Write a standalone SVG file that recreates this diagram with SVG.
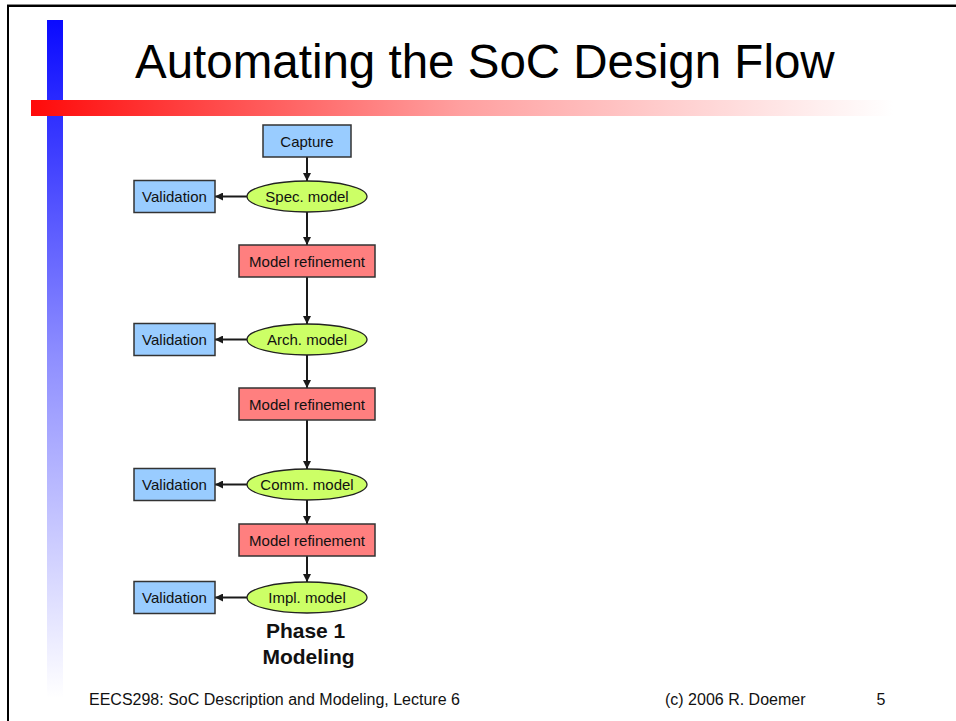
<svg xmlns="http://www.w3.org/2000/svg" width="956" height="721" viewBox="0 0 956 721">
  <defs>
    <linearGradient id="gradBlue" x1="0" y1="0" x2="0" y2="1">
      <stop offset="0" stop-color="#0a0aff"/>
      <stop offset="0.5" stop-color="#8f8fff"/>
      <stop offset="1" stop-color="#ffffff"/>
    </linearGradient>
    <linearGradient id="gradRed" x1="0" y1="0" x2="1" y2="0">
      <stop offset="0" stop-color="#ff0a0a"/>
      <stop offset="0.5" stop-color="#ffa0a0"/>
      <stop offset="1" stop-color="#ffffff"/>
    </linearGradient>
    <marker id="arrow" viewBox="0 0 10 10" refX="10" refY="5" markerWidth="4" markerHeight="4" orient="auto" markerUnits="strokeWidth">
      <path d="M0,0 L10,5 L0,10 z" fill="#1a1a1a"/>
    </marker>
    <style>
      .box { stroke: #333; stroke-width: 1.5; }
      .blue { fill: #99ccff; }
      .red { fill: #ff7f7f; }
      .model { fill: #ccff66; stroke: #222; stroke-width: 1.3; }
      .lbl { font-family: "Liberation Sans", Arial, sans-serif; font-size: 15px; fill: #111; text-anchor: middle; }
      .edge { stroke: #1a1a1a; stroke-width: 2; fill: none; marker-end: url(#arrow); }
      .foot { font-family: "Liberation Sans", Arial, sans-serif; font-size: 16px; fill: #111; }
    </style>
  </defs>

  <rect width="956" height="721" fill="#ffffff"/>

  <!-- slide frame (top and left edges) -->
  <rect x="7" y="4" width="949" height="1" fill="#888"/>
  <rect x="7" y="5" width="949" height="2" fill="#000"/>
  <rect x="7" y="5" width="2" height="716" fill="#000"/>

  <!-- decorative bars -->
  <rect x="47" y="20" width="16" height="678" fill="url(#gradBlue)"/>
  <rect x="31" y="100" width="862" height="16" fill="url(#gradRed)"/>

  <!-- title -->
  <text x="135" y="78" font-family="Liberation Sans, Arial, sans-serif" font-size="47.5" fill="#000">Automating the SoC Design Flow</text>

  <!-- connectors -->
  <g id="connectors">
    <line class="edge" x1="307" y1="157" x2="307" y2="181"/>
    <line class="edge" x1="307" y1="212" x2="307" y2="245"/>
    <line class="edge" x1="307" y1="277" x2="307" y2="324"/>
    <line class="edge" x1="307" y1="355" x2="307" y2="388"/>
    <line class="edge" x1="307" y1="420" x2="307" y2="469"/>
    <line class="edge" x1="307" y1="500" x2="307" y2="524"/>
    <line class="edge" x1="307" y1="556" x2="307" y2="582"/>
    <line class="edge" x1="247" y1="196.5" x2="215" y2="196.5"/>
    <line class="edge" x1="247" y1="339.5" x2="215" y2="339.5"/>
    <line class="edge" x1="247" y1="484.5" x2="215" y2="484.5"/>
    <line class="edge" x1="247" y1="597.5" x2="215" y2="597.5"/>
  </g>

  <!-- nodes -->
  <g id="capture">
    <rect class="box blue" x="263" y="125" width="88" height="32"/>
    <text class="lbl" x="307" y="146.5">Capture</text>
  </g>

  <g id="spec-model">
    <ellipse class="model" cx="307" cy="196.5" rx="60" ry="15.5"/>
    <text class="lbl" x="307" y="202">Spec. model</text>
  </g>
  <g id="validation-1">
    <rect class="box blue" x="134" y="180.5" width="81" height="32"/>
    <text class="lbl" x="174.5" y="202">Validation</text>
  </g>
  <g id="refinement-1">
    <rect class="box red" x="239" y="245" width="136" height="32"/>
    <text class="lbl" x="307" y="266.5">Model refinement</text>
  </g>

  <g id="arch-model">
    <ellipse class="model" cx="307" cy="339.5" rx="60" ry="15.5"/>
    <text class="lbl" x="307" y="345">Arch. model</text>
  </g>
  <g id="validation-2">
    <rect class="box blue" x="134" y="323.5" width="81" height="32"/>
    <text class="lbl" x="174.5" y="345">Validation</text>
  </g>
  <g id="refinement-2">
    <rect class="box red" x="239" y="388" width="136" height="32"/>
    <text class="lbl" x="307" y="409.5">Model refinement</text>
  </g>

  <g id="comm-model">
    <ellipse class="model" cx="307" cy="484.5" rx="60" ry="15.5"/>
    <text class="lbl" x="307" y="490">Comm. model</text>
  </g>
  <g id="validation-3">
    <rect class="box blue" x="134" y="468.5" width="81" height="32"/>
    <text class="lbl" x="174.5" y="490">Validation</text>
  </g>
  <g id="refinement-3">
    <rect class="box red" x="239" y="524" width="136" height="32"/>
    <text class="lbl" x="307" y="545.5">Model refinement</text>
  </g>

  <g id="impl-model">
    <ellipse class="model" cx="307" cy="597.5" rx="60" ry="15.5"/>
    <text class="lbl" x="307" y="603">Impl. model</text>
  </g>
  <g id="validation-4">
    <rect class="box blue" x="134" y="581.5" width="81" height="32"/>
    <text class="lbl" x="174.5" y="603">Validation</text>
  </g>

  <!-- phase caption -->
  <text font-family="Liberation Sans, Arial, sans-serif" font-size="21" font-weight="bold" fill="#111" text-anchor="middle">
    <tspan x="308.5" y="637.5">Phase 1</tspan>
    <tspan x="308.5" y="663.5">Modeling</tspan>
  </text>

  <!-- footer -->
  <text class="foot" x="89" y="705">EECS298: SoC Description and Modeling, Lecture 6</text>
  <text class="foot" x="665" y="705">(c) 2006 R. Doemer</text>
  <text class="foot" x="876.5" y="705">5</text>
</svg>
